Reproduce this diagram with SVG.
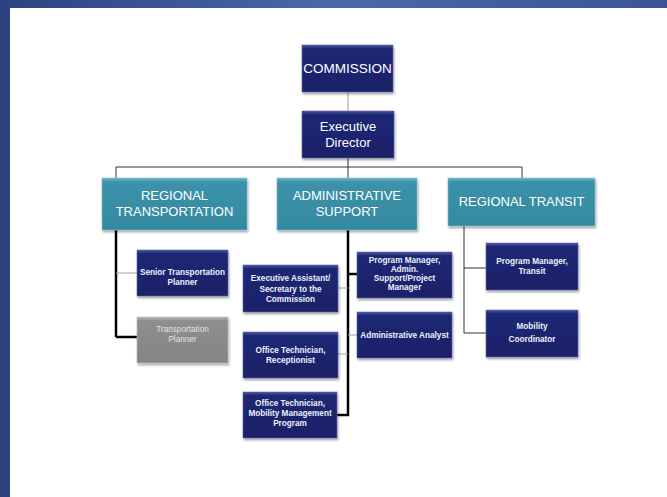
<svg xmlns="http://www.w3.org/2000/svg" width="667" height="497" viewBox="0 0 667 497">
<defs>
<linearGradient id="frameTop" x1="0" y1="0" x2="1" y2="0">
<stop offset="0" stop-color="#2d437f"/><stop offset="0.5" stop-color="#4a68ab"/><stop offset="1" stop-color="#3b5594"/>
</linearGradient>
<linearGradient id="navy" x1="0" y1="0" x2="0" y2="1">
<stop offset="0" stop-color="#4a56a0"/><stop offset="0.08" stop-color="#1f2874"/><stop offset="1" stop-color="#1a2168"/>
</linearGradient>
<linearGradient id="teal" x1="0" y1="0" x2="0" y2="1">
<stop offset="0" stop-color="#6fb4c6"/><stop offset="0.08" stop-color="#3b92aa"/><stop offset="1" stop-color="#3589a0"/>
</linearGradient>
<linearGradient id="grey" x1="0" y1="0" x2="0" y2="1">
<stop offset="0" stop-color="#b8b8b8"/><stop offset="0.08" stop-color="#8e8e8e"/><stop offset="1" stop-color="#858585"/>
</linearGradient>
<filter id="sh" x="-10%" y="-10%" width="125%" height="130%">
<feDropShadow dx="1" dy="2" stdDeviation="1.2" flood-color="#000" flood-opacity="0.35"/>
</filter>
</defs>
<style>
.n rect{filter:url(#sh);}
.nv{fill:url(#navy);stroke:#5a64a8;stroke-width:0.6}
.tl{fill:url(#teal);stroke:#7cbccd;stroke-width:0.6}
.gy{fill:url(#grey);stroke:#bbb;stroke-width:0.6}
text{font-family:"Liberation Sans",Arial,sans-serif;text-anchor:middle;fill:#fff}
.big{font-size:13.5px}
.mid{font-size:13px}
.sm{font-size:8.2px;font-weight:bold;fill:#eef0fa}
.gt{fill:#e2e2e2;font-weight:normal}
.thin{stroke:#333;stroke-width:1;fill:none}
.lg{stroke:#a0a0a0;stroke-width:1;fill:none}
.thick{stroke:#000;stroke-width:2.5;fill:none}
</style>
<rect x="0" y="0" width="667" height="497" fill="#fff"/>
<rect x="0" y="0" width="667" height="8" fill="url(#frameTop)"/>
<rect x="0" y="0" width="10" height="497" fill="#2d437f"/>

<g id="connectors">
<line class="lg" x1="348" y1="92" x2="348" y2="111"/>
<polyline class="thin" points="116,178 116,167 522,167 522,178"/>
<line class="thin" x1="348" y1="158" x2="348" y2="178"/>
<line class="thick" x1="116" y1="230" x2="116" y2="337"/>
<line class="lg" x1="116" y1="273" x2="137" y2="273"/>
<line class="thick" x1="116" y1="337" x2="137" y2="337"/>
<line class="thick" x1="348" y1="230" x2="348" y2="416"/>
<line class="thick" x1="348" y1="274" x2="357" y2="274"/>
<line class="lg" x1="338" y1="288" x2="348" y2="288"/>
<line class="lg" x1="348" y1="335" x2="357" y2="335"/>
<line class="lg" x1="338" y1="354" x2="348" y2="354"/>
<line class="thick" x1="337" y1="415" x2="349" y2="415"/>
<line class="thin" x1="464" y1="226" x2="464" y2="333"/>
<line class="thin" x1="464" y1="268" x2="486" y2="268"/>
<line class="thin" x1="464" y1="333" x2="486" y2="333"/>
</g>

<g id="commission" class="n"><rect class="nv" x="302" y="45" width="91" height="47"/><text class="big" x="347.5" y="73">COMMISSION</text></g>
<g id="executive-director" class="n"><rect class="nv" x="302" y="111" width="92" height="47"/><text class="mid" x="348" y="131">Executive</text><text class="mid" x="348" y="147">Director</text></g>

<g id="regional-transportation" class="n"><rect class="tl" x="102" y="178" width="145" height="52"/><text class="mid" x="174.5" y="200">REGIONAL</text><text class="mid" x="174.5" y="216">TRANSPORTATION</text></g>
<g id="administrative-support" class="n"><rect class="tl" x="277" y="178" width="140" height="52"/><text class="mid" x="347" y="200">ADMINISTRATIVE</text><text class="mid" x="347" y="216">SUPPORT</text></g>
<g id="regional-transit" class="n"><rect class="tl" x="448" y="178" width="147" height="48"/><text class="mid" x="521.5" y="206">REGIONAL TRANSIT</text></g>

<g id="senior-transportation-planner" class="n"><rect class="nv" x="137" y="250" width="91" height="46"/><text class="sm" x="182.5" y="275">Senior Transportation</text><text class="sm" x="182.5" y="285">Planner</text></g>
<g id="transportation-planner" class="n"><rect class="gy" x="137" y="317" width="91" height="46"/><text class="sm gt" x="182.5" y="332">Transportation</text><text class="sm gt" x="182.5" y="342">Planner</text></g>

<g id="executive-assistant" class="n"><rect class="nv" x="243" y="265" width="95" height="47"/><text class="sm" x="290.5" y="281">Executive Assistant/</text><text class="sm" x="290.5" y="292">Secretary to the</text><text class="sm" x="290.5" y="302">Commission</text></g>
<g id="program-manager-admin" class="n"><rect class="nv" x="357" y="252" width="95" height="46"/><text class="sm" x="404.5" y="263">Program Manager,</text><text class="sm" x="404.5" y="272">Admin.</text><text class="sm" x="404.5" y="281">Support/Project</text><text class="sm" x="404.5" y="290">Manager</text></g>
<g id="administrative-analyst" class="n"><rect class="nv" x="357" y="312" width="95" height="46"/><text class="sm" x="404.5" y="338">Administrative Analyst</text></g>
<g id="office-technician-receptionist" class="n"><rect class="nv" x="243" y="332" width="95" height="46"/><text class="sm" x="290.5" y="353">Office  Technician,</text><text class="sm" x="290.5" y="363">Receptionist</text></g>
<g id="office-technician-mobility" class="n"><rect class="nv" x="243" y="392" width="94" height="46"/><text class="sm" x="290" y="406">Office Technician,</text><text class="sm" x="290" y="416">Mobility Management</text><text class="sm" x="290" y="426">Program</text></g>

<g id="program-manager-transit" class="n"><rect class="nv" x="486" y="243" width="92" height="47"/><text class="sm" x="532" y="264">Program Manager,</text><text class="sm" x="532" y="274">Transit</text></g>
<g id="mobility-coordinator" class="n"><rect class="nv" x="486" y="310" width="92" height="47"/><text class="sm" x="532" y="329">Mobility</text><text class="sm" x="532" y="342">Coordinator</text></g>
</svg>
